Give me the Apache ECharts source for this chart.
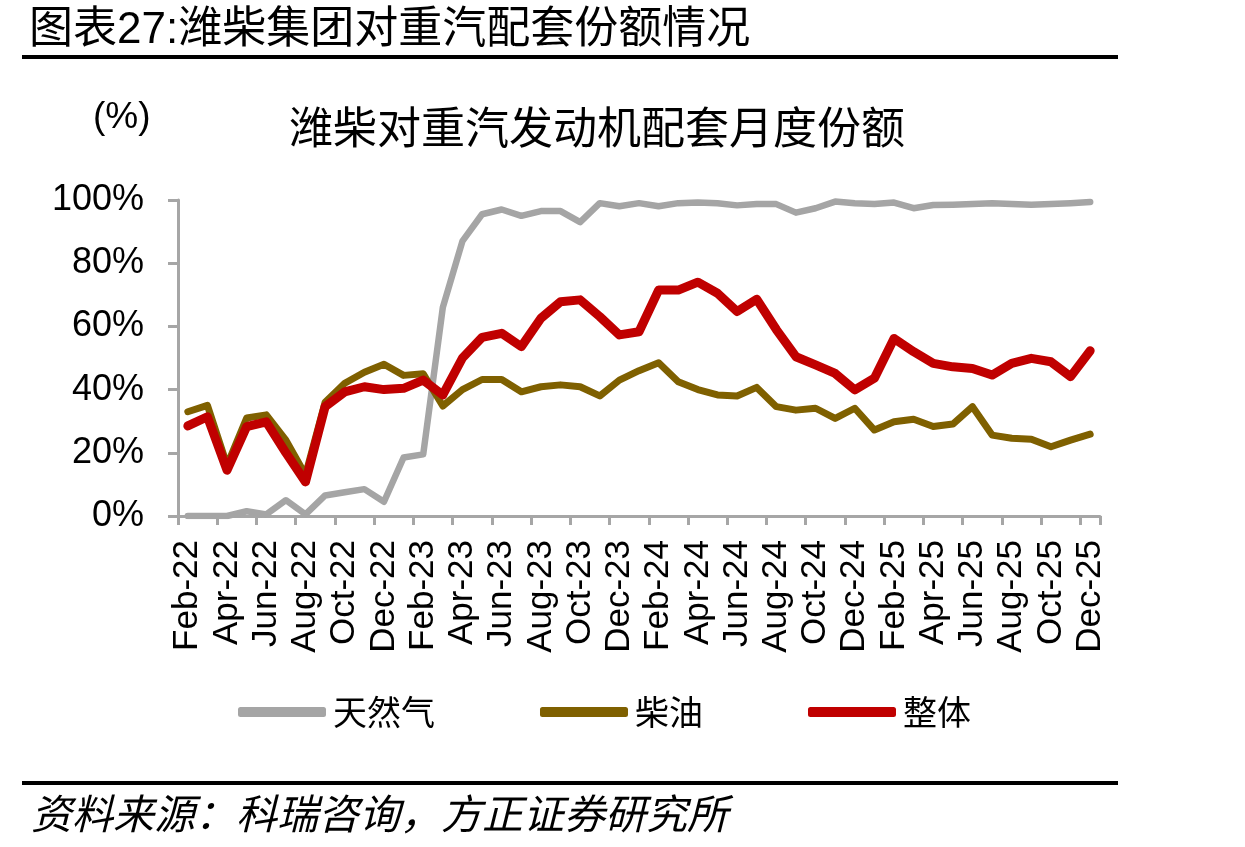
<!DOCTYPE html>
<html>
<head>
<meta charset="utf-8">
<script src="https://cdn.jsdelivr.net/npm/echarts@6/dist/echarts.min.js"></script>
<style>
  html, body { margin: 0; padding: 0; background: #fff; }
  #chart { width: 1245px; height: 847px; }
</style>
</head>
<body>
<div id="chart"></div>
<script>
  // 月份（2022-02 ~ 2025-12）
  var months = [
    'Feb-22', 'Mar-22', 'Apr-22', 'May-22', 'Jun-22', 'Jul-22', 'Aug-22', 'Sep-22', 'Oct-22', 'Nov-22', 'Dec-22',
    'Jan-23', 'Feb-23', 'Mar-23', 'Apr-23', 'May-23', 'Jun-23', 'Jul-23', 'Aug-23', 'Sep-23', 'Oct-23', 'Nov-23', 'Dec-23',
    'Jan-24', 'Feb-24', 'Mar-24', 'Apr-24', 'May-24', 'Jun-24', 'Jul-24', 'Aug-24', 'Sep-24', 'Oct-24', 'Nov-24', 'Dec-24',
    'Jan-25', 'Feb-25', 'Mar-25', 'Apr-25', 'May-25', 'Jun-25', 'Jul-25', 'Aug-25', 'Sep-25', 'Oct-25', 'Nov-25', 'Dec-25'
  ]
  // 天然气
  var gasShare = [
    0, 0, 0, 1.5, 0.5, 5, 0.5, 6.5, 7.5, 8.5, 4.5,
    18.5, 19.5, 66, 87, 95.5, 97, 95, 96.5, 96.5, 93, 99, 98,
    99, 98, 99, 99.2, 99, 98.3, 98.7, 98.7, 96, 97.4, 99.5, 99,
    98.7, 99.2, 97.4, 98.4, 98.5, 98.7, 99, 98.7, 98.5, 98.7, 99, 99.4
  ]
  // 柴油
  var dieselShare = [
    33, 35, 16, 31, 32, 24, 13, 36, 42, 45.5, 48,
    44.5, 45, 34.8, 40, 43.2, 43.2, 39.3, 40.9, 41.5, 40.9, 38, 43,
    46, 48.5, 42.5, 40, 38.3, 38, 40.7, 34.6, 33.5, 34.1, 30.9, 34.1,
    27.2, 29.8, 30.6, 28.3, 29.1, 34.6, 25.6, 24.6, 24.3, 21.9, 24, 25.9
  ]
  // 整体
  var totalShare = [
    28.5, 31.4, 14.5, 28.3, 29.8, 20, 10.8, 34.6, 39.3, 40.9, 40,
    40.4, 43, 38.3, 50, 56.5, 57.8, 53.6, 62.6, 67.8, 68.4, 63.1, 57.3,
    58.3, 71.5, 71.5, 74, 70.5, 64.7, 68.6, 59, 50.4, 47.8, 45.1, 39.9,
    43.6, 56.2, 52, 48.3, 47.2, 46.7, 44.6, 48.3, 49.9, 48.8, 44.1, 52.3
  ]

  var latin = 'Liberation Sans, Arial, Noto Sans CJK SC'
  var cjk = 'Noto Sans CJK SC, Liberation Sans'
  var axisGray = '#A6A6A6'

  var chart = echarts.init(document.getElementById('chart'))
  chart.setOption({
    backgroundColor: '#fff',
    animation: false,
    title: [
      {
        text: '图表27:潍柴集团对重汽配套份额情况',
        left: 24, top: 4,
        textStyle: { fontFamily: latin, fontSize: 44, fontWeight: 'normal', color: '#000' }
      },
      {
        text: '(%)',
        left: 88, top: 94,
        textStyle: { fontFamily: latin, fontSize: 37, fontWeight: 'normal', color: '#000' }
      },
      {
        text: '潍柴对重汽发动机配套月度份额',
        left: 284, top: 100,
        textStyle: { fontFamily: cjk, fontSize: 44, fontWeight: 'normal', color: '#000' }
      },
      {
        text: '资料来源：科瑞咨询，方正证券研究所',
        left: 26, top: 788,
        textStyle: { fontFamily: cjk, fontSize: 41, fontWeight: 'normal', fontStyle: 'italic', color: '#000' }
      }
    ],
    graphic: [
      { type: 'line', shape: { x1: 22, y1: 57, x2: 1118, y2: 57 }, style: { stroke: '#000', lineWidth: 4 } },
      { type: 'line', shape: { x1: 22, y1: 783, x2: 1118, y2: 783 }, style: { stroke: '#000', lineWidth: 4 } }
    ],
    legend: {
      left: 233, top: 690,
      itemWidth: 88, itemHeight: 10,
      itemGap: 105,
      icon: 'roundRect',
      textStyle: { fontFamily: cjk, fontSize: 34, color: '#000', padding: [0, 0, 0, 2] },
      data: ['天然气', '柴油', '整体']
    },
    grid: { left: 178, right: 145, top: 200, bottom: 331, containLabel: false },
    xAxis: {
      type: 'category',
      data: months,
      boundaryGap: true,
      axisLine: { lineStyle: { color: axisGray, width: 3 } },
      axisTick: { show: true, interval: 1, length: 9, lineStyle: { color: axisGray, width: 3 } },
      axisLabel: {
        interval: 1, rotate: 90, margin: 24,
        fontFamily: latin, fontSize: 35, color: '#000'
      },
      splitLine: { show: false }
    },
    yAxis: {
      type: 'value',
      min: 0, max: 100, interval: 20,
      axisLine: { show: true, lineStyle: { color: axisGray, width: 3 } },
      axisTick: { show: true, length: 10, lineStyle: { color: axisGray, width: 3 } },
      axisLabel: { formatter: '{value}%', margin: 34, fontFamily: latin, fontSize: 36, color: '#000' },
      splitLine: { show: false }
    },
    series: [
      {
        name: '天然气', type: 'line', data: gasShare, symbol: 'none',
        itemStyle: { color: '#A5A5A5' },
        lineStyle: { color: '#A5A5A5', width: 6.5, cap: 'round', join: 'round' }
      },
      {
        name: '柴油', type: 'line', data: dieselShare, symbol: 'none',
        itemStyle: { color: '#7F6000' },
        lineStyle: { color: '#7F6000', width: 7, cap: 'round', join: 'round' }
      },
      {
        name: '整体', type: 'line', data: totalShare, symbol: 'none',
        itemStyle: { color: '#C00000' },
        lineStyle: { color: '#C00000', width: 9, cap: 'round', join: 'round' }
      }
    ]
  })
</script>
</body>
</html>
